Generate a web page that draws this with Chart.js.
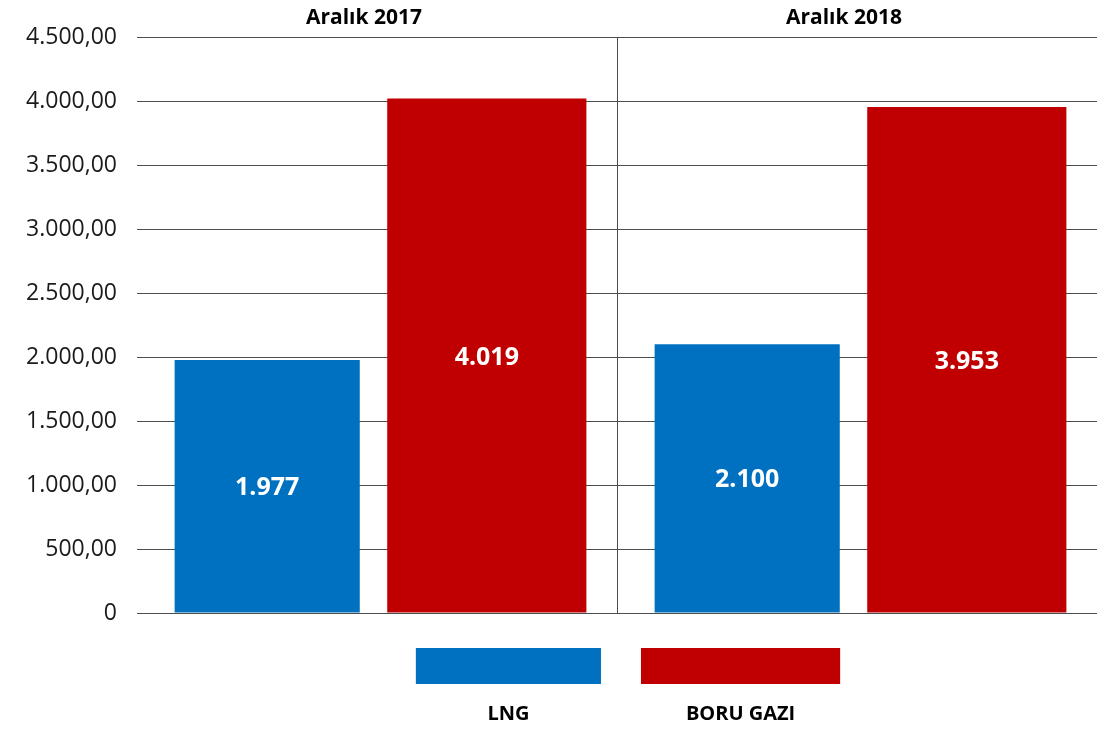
<!DOCTYPE html>
<html>
<head>
<meta charset="utf-8">
<script src="https://cdn.jsdelivr.net/npm/chart.js@4"></script>
<style>
  html, body { margin: 0; padding: 0; background: #fff; }
  #chart { display: block; }
</style>
</head>
<body>
<canvas id="chart" width="1107" height="729"></canvas>
<script>
/* ---------- data ---------- */
const categories = ["Aralık 2017", "Aralık 2018"];
const seriesNames = ["LNG", "BORU GAZI"];
const lngValues = [1977, 2100];
const boruGaziValues = [4019, 3953];
const yMax = 4500;
const yStep = 500;

const FONT = "'Open Sans', 'DejaVu Sans', sans-serif";

// 1977 -> "1.977", 4500 -> "4.500,00"
function trNumber(v, decimals) {
    const parts = v.toFixed(decimals).split(".");
    parts[0] = parts[0].replace(/\B(?=(\d{3})+(?!\d))/g, ".");
    return decimals ? parts[0] + "," + parts[1] : parts[0];
}

/* ---------- value labels inside bars ---------- */
const barLabels = {
    id: "barLabels",
    afterDatasetsDraw(chart) {
        const ctx = chart.ctx;
        ctx.save();
        ctx.fillStyle = "#fff";
        ctx.font = "bold 25px " + FONT;
        ctx.textAlign = "center";
        ctx.textBaseline = "middle";
        chart.data.datasets.forEach((ds, i) => {
            chart.getDatasetMeta(i).data.forEach((bar, j) => {
                ctx.fillText(trNumber(ds.data[j], 0), bar.x, (bar.y + bar.base) / 2 + 2);
            });
        });
        ctx.restore();
    }
};

/* ---------- legend: boxes with names underneath ---------- */
const bottomLegend = {
    id: "bottomLegend",
    afterDraw(chart) {
        const ctx = chart.ctx;
        const area = chart.chartArea;
        const gap = 40;
        const widths = chart.data.datasets.map((ds, i) => chart.getDatasetMeta(i).data[0].width);
        const total = widths.reduce((a, b) => a + b, 0) + gap * (widths.length - 1);
        let x = (area.left + area.right) / 2 + 11 - total / 2;

        ctx.save();
        ctx.font = "bold 20px " + FONT;
        ctx.textAlign = "center";
        ctx.textBaseline = "middle";
        chart.data.datasets.forEach((ds, i) => {
            ctx.fillStyle = ds.backgroundColor;
            ctx.fillRect(x, area.bottom + 35, widths[i], 36);
            ctx.fillStyle = "#000";
            ctx.fillText(ds.label, x + widths[i] / 2, area.bottom + 101);
            x += widths[i] + gap;
        });
        ctx.restore();
    }
};

new Chart(document.getElementById("chart"), {
    type: "bar",
    data: {
        labels: categories,
        datasets: [
            {
                label: seriesNames[0],
                data: lngValues,
                backgroundColor: "#0070C0",
                categoryPercentage: 0.915,
                barPercentage: 0.843
            },
            {
                label: seriesNames[1],
                data: boruGaziValues,
                backgroundColor: "#C00000",
                categoryPercentage: 0.915,
                barPercentage: 0.907
            }
        ]
    },
    options: {
        responsive: false,
        animation: false,
        devicePixelRatio: 1,
        layout: { padding: { top: 0, left: 0, right: 10, bottom: 116 } },
        plugins: {
            legend: { display: false },
            tooltip: { enabled: false }
        },
        scales: {
            x: {
                position: "top",
                offset: true,
                border: { display: false },
                grid: {
                    offset: true,
                    drawTicks: false,
                    lineWidth: 1,
                    color: (c) => c.index === 1 ? "#4d4d4d" : "rgba(0,0,0,0)"
                },
                ticks: {
                    color: "#000",
                    font: { family: FONT, size: 21, weight: "bold" },
                    padding: 6,
                    labelOffset: -13
                },
                afterFit: (s) => { s.height = 37; }
            },
            y: {
                min: 0,
                max: yMax,
                border: { display: false },
                grid: { drawTicks: false, color: "#4d4d4d", lineWidth: 1 },
                ticks: {
                    stepSize: yStep,
                    color: "#1a1a1a",
                    font: { family: FONT, size: 23 },
                    padding: 20,
                    callback: (v) => v === 0 ? "0" : trNumber(v, 2)
                },
                afterFit: (s) => { s.width = 137; }
            }
        }
    },
    plugins: [barLabels, bottomLegend]
});
</script>
</body>
</html>
